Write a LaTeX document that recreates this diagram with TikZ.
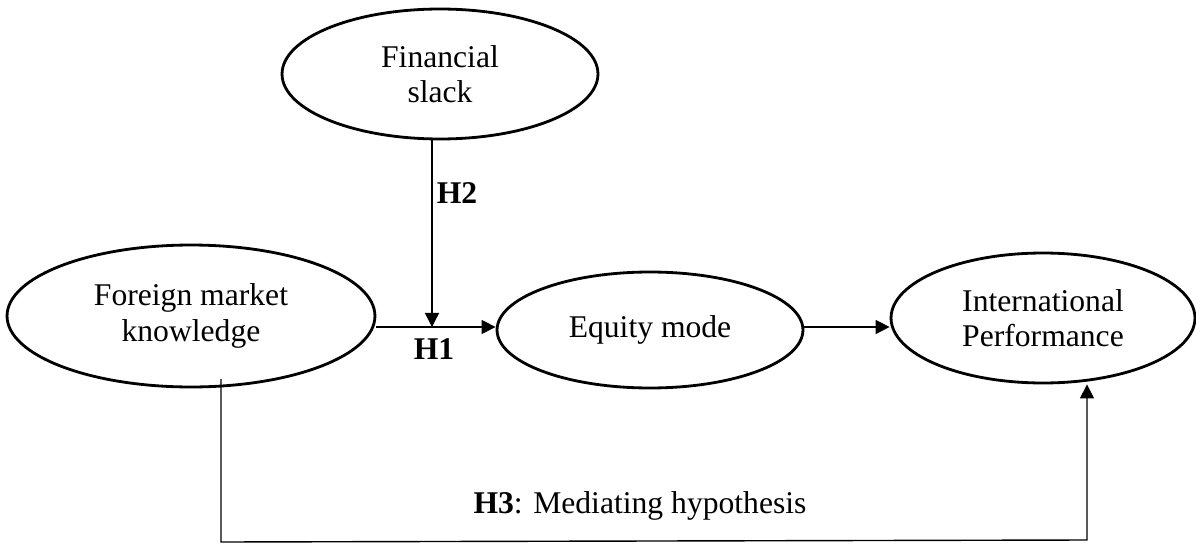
\documentclass[tikz,border=0pt]{standalone}
\usepackage{fontspec}
\setmainfont{Liberation Serif}
\usetikzlibrary{shapes.geometric,arrows.meta}

\begin{document}
\begin{tikzpicture}[x=0.02cm, y=-0.02cm,
    construct/.style={ellipse, draw, line width=1.6pt, inner sep=0pt, align=center, font=\fontsize{18}{20}\selectfont},
    arrow/.style={-{Triangle[length=8pt,width=8pt]}, line width=0.8pt},
    hyp/.style={font=\fontsize{18}{20}\selectfont}
]
    \useasboundingbox (0,0) rectangle (1196,544);

    \node[construct, minimum width=6.32cm, minimum height=2.6cm] (slack) at (440,74) {Financial\\slack};
    \node[construct, minimum width=7.36cm, minimum height=2.84cm] (fmk) at (191,316) {Foreign market\\knowledge};
    \node[construct, minimum width=6.12cm, minimum height=2.32cm] (equity) at (650,330) {Equity mode};
    \node[construct, minimum width=6.08cm, minimum height=2.6cm] (perf) at (1043,318) {International\\Performance};

    \coordinate (join) at (432,327);
    \coordinate (h3top) at (221,379);
    \coordinate (h3left) at (221,542);
    \coordinate (h3right) at (1087,540);

    \draw[arrow] (fmk.east |- join) -- (equity.west |- join);
    \draw[arrow] (slack.south -| join) -- (join);
    \draw[arrow] (equity.east |- join) -- (perf.west |- join);
    \draw[arrow] (h3top) -- (h3left) -- (h3right) -- (perf.south -| h3right);

    \node[hyp] (h2) at (457,193) {\textbf{H2}};
    \node[hyp] (h1) at (434,349) {\textbf{H1}};
    \node[hyp] (h3) at (640,506) {\textbf{H3}: Mediating hypothesis};
\end{tikzpicture}
\end{document}
